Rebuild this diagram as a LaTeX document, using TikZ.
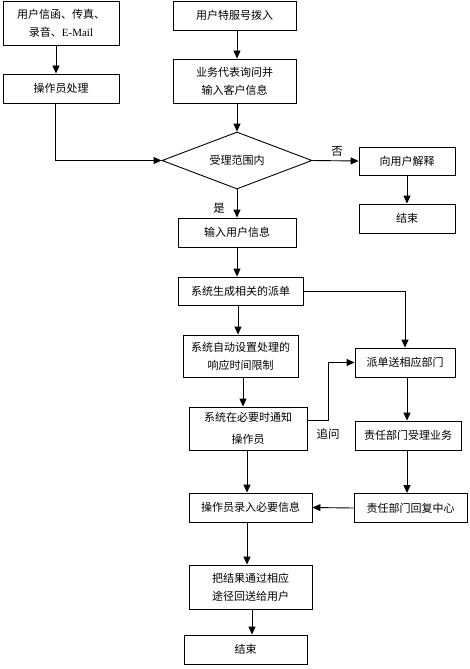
\documentclass[tikz,border=0pt]{standalone}
\usepackage{fontspec}
\setmainfont{Liberation Serif}
\newfontfamily\cjk{Noto Sans CJK SC}
\usetikzlibrary{arrows.meta,shapes.geometric}

\begin{document}
\begin{tikzpicture}[
  x=1pt,y=-1pt,
  box/.style={draw,line width=.9pt,inner sep=0pt,align=center,
    font=\cjk\fontsize{11}{18}\selectfont},
  choice/.style={draw,diamond,line width=.9pt,inner sep=0pt,aspect=2.6,
    minimum width=150pt,minimum height=57pt,font=\cjk\fontsize{11}{13}\selectfont},
  note/.style={font=\cjk\fontsize{11.5}{13}\selectfont},
  arrow/.style={-{Triangle[length=8pt,width=7pt]},line width=.9pt}
]
\useasboundingbox[fill=white] (0,0) rectangle (469,669);

% left entry
\node[box,minimum width=116pt,minimum height=44pt] (mail) at (61,23)
  {用户信函、传真、\\录音、{\rmfamily E-Mail}};
\node[box,minimum width=116pt,minimum height=29pt] (operator) at (61,88.5) {操作员处理};

% hotline entry
\node[box,minimum width=123pt,minimum height=29pt] (hotline) at (234.5,15.5) {用户特服号拨入};
\node[box,minimum width=123pt,minimum height=44pt] (agent) at (234.5,81)
  {业务代表询问并\\输入客户信息};

% decision
\node[choice] (scope) at (237,160.5) {受理范围内};
\node[box,minimum width=96pt,minimum height=28pt] (explain) at (407,161) {向用户解释};
\node[box,minimum width=96pt,minimum height=29pt] (stopA) at (407,218.5) {结束};

% main column
\node[box,minimum width=118pt,minimum height=29pt] (userinfo) at (237,232.5) {输入用户信息};
\node[box,minimum width=125pt,minimum height=28pt] (order) at (240.5,291) {系统生成相关的派单};
\node[box,minimum width=115pt,minimum height=42pt] (limit) at (240.5,356)
  {系统自动设置处理的\\响应时间限制};
\node[box,minimum width=118pt,minimum height=43pt,
  font=\cjk\fontsize{11}{22}\selectfont] (notify) at (248,428.5)
  {系统在必要时通知\\操作员};
\node[box,minimum width=123pt,minimum height=29pt] (record) at (250.5,507.5) {操作员录入必要信息};
\node[box,minimum width=123pt,minimum height=44pt] (reply) at (250.5,587)
  {把结果通过相应\\途径回送给用户};
\node[box,minimum width=123pt,minimum height=29pt] (stopB) at (245.5,649.5) {结束};

% department column
\node[box,minimum width=100pt,minimum height=29pt] (dispatch) at (405,362.5) {派单送相应部门};
\node[box,minimum width=106pt,minimum height=29pt] (accept) at (408,435.5) {责任部门受理业务};
\node[box,minimum width=113pt,minimum height=29pt] (answer) at (410.5,508) {责任部门回复中心};

% connectors
\draw[arrow] ([xshift=-5pt]mail.south) -- ([xshift=-5pt]operator.north);
\draw[arrow] ([xshift=-6pt]operator.south) |- (scope.west);
\draw[arrow] (hotline.south -| scope) -- (agent.north -| scope);
\draw[arrow] (agent.south -| scope) -- (scope.north);
\draw[arrow] (scope.east) -- (explain.west);
\node[note] (no) at (337,151) {否};
\draw[arrow] (explain) -- (stopA);
\draw[arrow] (scope.south) -- (userinfo.north);
\node[note] (yes) at (219,208) {是};
\draw[arrow] (userinfo.south) -- (order.north -| userinfo);
\draw[arrow] (order.east) -| (dispatch.north);
\draw[arrow] ([xshift=-2.5pt]order.south) -- ([xshift=-2.5pt]limit.north);
\draw[arrow] ([xshift=2.5pt]limit.south) -- ([xshift=2.5pt]limit.south |- notify.north);
\draw[arrow] ([yshift=8pt]notify.east) -- ++(21,0) |- (dispatch.west);
\node[note] (chase) at (328,434) {追问};
\draw[arrow] ([xshift=2pt]dispatch.south) -- ([xshift=2pt]dispatch.south |- accept.north);
\draw[arrow] ([xshift=-1pt]accept.south) -- ([xshift=-1pt]accept.south |- answer.north);
\draw[arrow] (answer.west) -- (record.east);
\draw[arrow] ([xshift=-1pt]notify.south) -- ([xshift=-1pt]notify.south |- record.north);
\draw[arrow] ([xshift=-3.5pt]record.south) -- ([xshift=-3.5pt]reply.north);
\draw[arrow] ([xshift=1.5pt]reply.south) -- ([xshift=1.5pt]reply.south |- stopB.north);
\end{tikzpicture}
\end{document}
